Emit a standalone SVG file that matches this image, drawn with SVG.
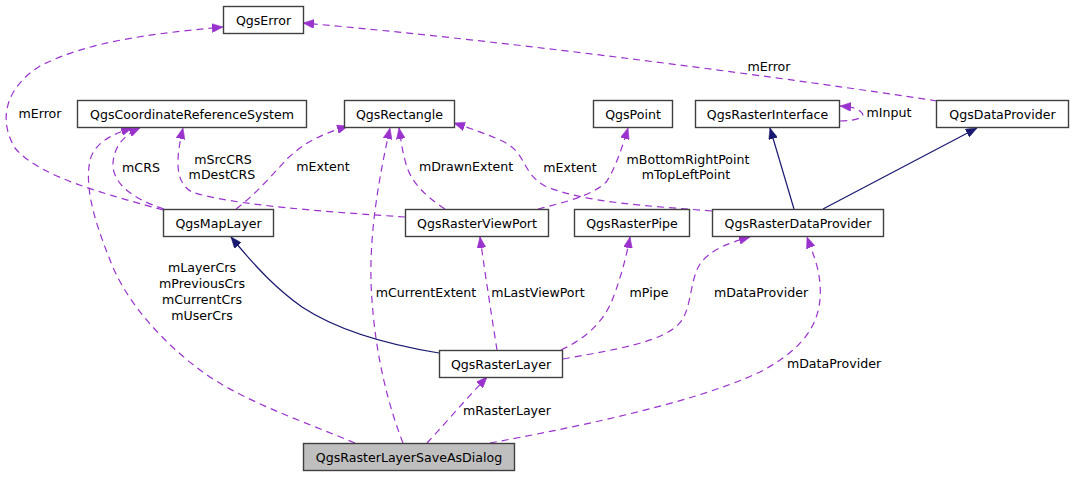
<svg xmlns="http://www.w3.org/2000/svg" width="1073" height="477" viewBox="0 0 1073 477">
  <style>
    .node rect { fill: #ffffff; stroke: #404040; stroke-width: 1.4; }
    .node.root rect { fill: #bfbfbf; }
    text { font-family: "DejaVu Sans", "Liberation Sans", sans-serif; font-size: 12.6px; fill: #000000; }
    .node text { text-anchor: middle; }
    .lbl { text-anchor: middle; }
    .use { fill: none; stroke: #9a32cd; stroke-width: 1.2; stroke-dasharray: 7 5; marker-end: url(#headUse); }
    .inh { fill: none; stroke: #191970; stroke-width: 1.2; marker-end: url(#headInh); }
  </style>
  <defs>
    <marker id="headUse" markerUnits="userSpaceOnUse" markerWidth="11" markerHeight="9" refX="11" refY="4.5" orient="auto">
      <path d="M0,0 L11,4.5 L0,9 z" fill="#9a32cd" stroke="#9a32cd" stroke-width="0.5"/>
    </marker>
    <marker id="headInh" markerUnits="userSpaceOnUse" markerWidth="11" markerHeight="9" refX="11" refY="4.5" orient="auto">
      <path d="M0,0 L11,4.5 L0,9 z" fill="#191970" stroke="#191970" stroke-width="0.5"/>
    </marker>
  </defs>

  <!-- connectors -->
  <g id="edges">
    <!-- QgsMapLayer -> QgsError -->
    <path class="use" d="M163,210 C110,195 40,178 15,148 C-2,120 5,88 40,66 C90,40 160,33 223,27"/>
    <text class="lbl" x="40" y="118">mError</text>
    <!-- QgsDataProvider -> QgsError -->
    <path class="use" d="M937,101 C800,80 520,42 303,23"/>
    <text class="lbl" x="769" y="71">mError</text>
    <!-- QgsMapLayer -> QgsCoordinateReferenceSystem (mCRS) -->
    <path class="use" d="M164,209 C130,198 112,182 113,163 C114,148 122,136 140,128"/>
    <text class="lbl" x="141" y="172">mCRS</text>
    <!-- QgsRasterLayerSaveAsDialog -> QgsCoordinateReferenceSystem -->
    <path class="use" d="M355,443 C300,420 240,400 200,370 C160,340 125,300 110,260 C92,215 85,185 90,160 C95,143 110,135 132,128"/>
    <text class="lbl" x="202" y="272">mLayerCrs</text>
    <text class="lbl" x="202" y="288">mPreviousCrs</text>
    <text class="lbl" x="202" y="304">mCurrentCrs</text>
    <text class="lbl" x="202" y="320">mUserCrs</text>
    <!-- QgsMapLayer -> QgsRectangle (mExtent) -->
    <path class="use" d="M236,209 C255,195 272,175 288,158 C305,142 322,134 348,126"/>
    <text class="lbl" x="323" y="171">mExtent</text>
    <!-- QgsRasterViewPort -> QgsCoordinateReferenceSystem -->
    <path class="use" d="M405,217 C330,212 230,205 192,192 C174,182 176,158 183,128"/>
    <text class="lbl" x="223" y="164">mSrcCRS</text>
    <text class="lbl" x="222" y="179">mDestCRS</text>
    <!-- QgsRasterViewPort -> QgsRectangle (mDrawnExtent) -->
    <path class="use" d="M445,209 C425,196 411,182 406,164 C402,150 401,140 399,128"/>
    <text class="lbl" x="466" y="171">mDrawnExtent</text>
    <!-- QgsRasterLayerSaveAsDialog -> QgsRectangle (mCurrentExtent) -->
    <path class="use" d="M403,443 C390,410 376,360 372,300 C368,250 375,195 390,128"/>
    <text class="lbl" x="426" y="297">mCurrentExtent</text>
    <!-- QgsRasterViewPort -> QgsPoint -->
    <path class="use" d="M538,209 C562,203 595,195 607,181 C616,166 622,148 628,128"/>
    <text class="lbl" x="688" y="164">mBottomRightPoint</text>
    <text class="lbl" x="686" y="179">mTopLeftPoint</text>
    <!-- QgsRasterDataProvider -> QgsRectangle (mExtent) -->
    <path class="use" d="M712,211 C650,206 585,203 545,186 C520,172 528,152 500,140 C484,133 472,129 454,123"/>
    <text class="lbl" x="570" y="172">mExtent</text>
    <!-- QgsRasterInterface self reference -->
    <path class="use" d="M840,121 C856,121 866,117 862,113 C858,108 852,107 840,106"/>
    <text class="lbl" x="889" y="117">mInput</text>
    <!-- inheritance -->
    <path class="inh" d="M794,209 L770,128"/>
    <path class="inh" d="M823,209 L977,128"/>
    <path class="inh" d="M439,353 C390,345 340,332 302,307 C278,290 258,270 231,237"/>
    <!-- QgsRasterLayer -> QgsRasterViewPort -->
    <path class="use" d="M497,350 C492,318 486,280 480,237"/>
    <text class="lbl" x="538" y="297">mLastViewPort</text>
    <!-- QgsRasterLayer -> QgsRasterPipe -->
    <path class="use" d="M561,350 C587,338 605,320 613,298 C621,277 626,258 630,237"/>
    <text class="lbl" x="649" y="297">mPipe</text>
    <!-- QgsRasterLayer -> QgsRasterDataProvider -->
    <path class="use" d="M563,359 C612,350 668,342 682,320 C692,304 690,280 700,264 C710,250 728,243 750,237"/>
    <text class="lbl" x="761" y="297">mDataProvider</text>
    <!-- QgsRasterLayerSaveAsDialog -> QgsRasterLayer -->
    <path class="use" d="M427,443 C441,428 458,408 487,377"/>
    <text class="lbl" x="507" y="415">mRasterLayer</text>
    <!-- QgsRasterLayerSaveAsDialog -> QgsRasterDataProvider -->
    <path class="use" d="M490,443 C560,430 690,405 760,372 C805,348 828,320 818,270 C815,258 811,248 807,237"/>
    <text class="lbl" x="834" y="368">mDataProvider</text>
  </g>

  <!-- nodes -->
  <g id="QgsError" class="node"><rect x="223.5" y="6.5" width="80" height="27"/><text x="263.5" y="24.5">QgsError</text></g>
  <g id="QgsCoordinateReferenceSystem" class="node"><rect x="77.5" y="100.5" width="229" height="27"/><text x="192" y="118.5">QgsCoordinateReferenceSystem</text></g>
  <g id="QgsRectangle" class="node"><rect x="344.5" y="100.5" width="110" height="27"/><text x="399.5" y="118.5">QgsRectangle</text></g>
  <g id="QgsPoint" class="node"><rect x="593.5" y="100.5" width="79" height="27"/><text x="633" y="118.5">QgsPoint</text></g>
  <g id="QgsRasterInterface" class="node"><rect x="695.5" y="100.5" width="144" height="27"/><text x="767.5" y="118.5">QgsRasterInterface</text></g>
  <g id="QgsDataProvider" class="node"><rect x="936.5" y="100.5" width="132" height="27"/><text x="1002.5" y="118.5">QgsDataProvider</text></g>
  <g id="QgsMapLayer" class="node"><rect x="163.5" y="209.5" width="110" height="27"/><text x="218.5" y="227.5">QgsMapLayer</text></g>
  <g id="QgsRasterViewPort" class="node"><rect x="405.5" y="209.5" width="143" height="27"/><text x="477" y="227.5">QgsRasterViewPort</text></g>
  <g id="QgsRasterPipe" class="node"><rect x="574.5" y="209.5" width="115" height="27"/><text x="632" y="227.5">QgsRasterPipe</text></g>
  <g id="QgsRasterDataProvider" class="node"><rect x="712.5" y="209.5" width="171" height="27"/><text x="798" y="227.5">QgsRasterDataProvider</text></g>
  <g id="QgsRasterLayer" class="node"><rect x="439.5" y="350.5" width="123" height="27"/><text x="501" y="368.5">QgsRasterLayer</text></g>
  <g id="QgsRasterLayerSaveAsDialog" class="node root"><rect x="303.5" y="443.5" width="211" height="27"/><text x="409" y="461.5">QgsRasterLayerSaveAsDialog</text></g>
</svg>
